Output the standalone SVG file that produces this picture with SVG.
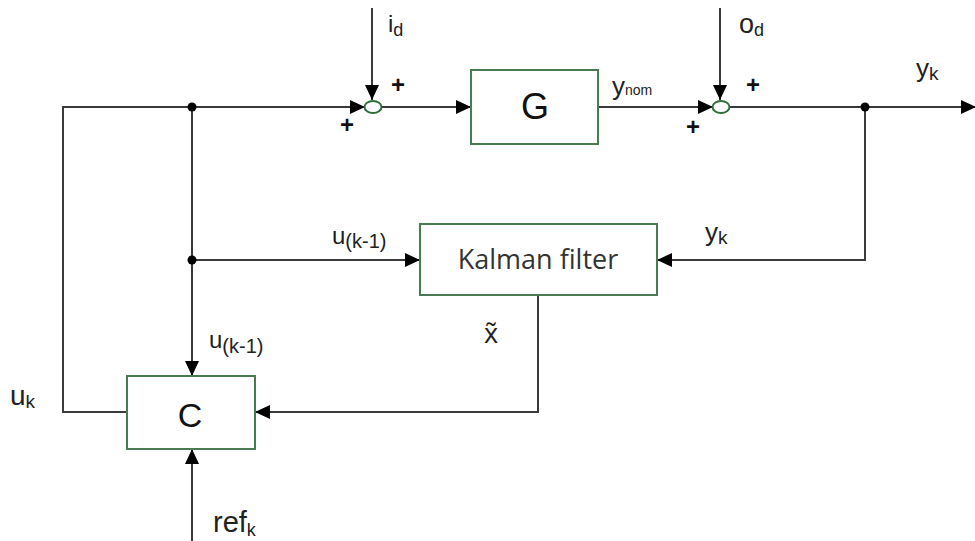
<svg xmlns="http://www.w3.org/2000/svg" width="975" height="541" viewBox="0 0 975 541">
<style>
.ln{fill:none;stroke:#3a3a3a;stroke-width:2}
.box{fill:#fff;stroke:#4a7a52;stroke-width:2}
.sum{fill:#fff;stroke:#2f6e3a;stroke-width:2}
.lb{font-family:"Liberation Sans",Arial,sans-serif;fill:#222}
.pl{font-family:"Liberation Sans",Arial,sans-serif;font-size:24px;font-weight:bold;fill:#111;text-anchor:middle}
.bt{font-family:"Liberation Sans",Arial,sans-serif;fill:#111;text-anchor:middle}
.dot{fill:#000}
</style>
<defs>
<marker id="ah" markerUnits="userSpaceOnUse" markerWidth="16" markerHeight="14" refX="15" refY="7" orient="auto">
<path d="M0,0 L15,7 L0,14 z" fill="#000"/>
</marker>
</defs>
<rect width="975" height="541" fill="#fff"/>
<g id="connectors">
<path class="ln" d="M127,412 H63 V107 H365" marker-end="url(#ah)"/>
<path class="ln" d="M192,107 V376" marker-end="url(#ah)"/>
<path class="ln" d="M192,260 H420" marker-end="url(#ah)"/>
<path class="ln" d="M372,8 V100" marker-end="url(#ah)"/>
<path class="ln" d="M382,107 H471" marker-end="url(#ah)"/>
<path class="ln" d="M598,107 H713" marker-end="url(#ah)"/>
<path class="ln" d="M720,8 V100" marker-end="url(#ah)"/>
<path class="ln" d="M730,107 H976" marker-end="url(#ah)"/>
<path class="ln" d="M865,107 V260 H657" marker-end="url(#ah)"/>
<path class="ln" d="M538,295 V412 H255" marker-end="url(#ah)"/>
<path class="ln" d="M192,541 V449" marker-end="url(#ah)"/>
<circle class="dot" cx="192" cy="107" r="4.5"/>
<circle class="dot" cx="192" cy="260" r="4.5"/>
<circle class="dot" cx="865" cy="107" r="4.5"/>
</g>
<g id="sum1">
<ellipse class="sum" cx="373" cy="107" rx="8.5" ry="6"/>
<text class="pl" x="398" y="93">+</text>
<text class="pl" x="347" y="133">+</text>
</g>
<g id="sum2">
<ellipse class="sum" cx="721" cy="107" rx="8.5" ry="6"/>
<text class="pl" x="753" y="93">+</text>
<text class="pl" x="693" y="135">+</text>
</g>
<g id="G">
<rect class="box" x="471" y="70" width="127" height="74"/>
<text class="bt" x="535" y="119" font-size="36">G</text>
</g>
<g id="Kalman">
<rect class="box" x="420" y="224" width="237" height="71"/>
<text x="538" y="269" font-family="'Open Sans',sans-serif" font-size="27" fill="#333" text-anchor="middle">Kalman filter</text>
</g>
<g id="C">
<rect class="box" x="127" y="376" width="128" height="73"/>
<text class="bt" x="190" y="427" font-size="34">C</text>
</g>
<g id="labels">
<text class="lb" x="388" y="32" font-size="24">i<tspan font-size="18" dy="4">d</tspan></text>
<text class="lb" x="739" y="33" font-size="27">o<tspan font-size="18" dy="3">d</tspan></text>
<text class="lb" x="612" y="95" font-size="26">y<tspan font-size="14" dy="0">nom</tspan></text>
<text class="lb" x="916" y="77" font-size="26">y<tspan font-size="19" dy="3">k</tspan></text>
<text class="lb" x="332" y="244" font-size="24">u<tspan font-size="20" dy="4">(k-1)</tspan></text>
<text class="lb" x="705" y="241" font-size="26">y<tspan font-size="19" dy="3">k</tspan></text>
<text x="484" y="343" font-family="'Open Sans',sans-serif" font-size="27" fill="#222">x̃</text>
<text class="lb" x="209" y="348" font-size="24">u<tspan font-size="20" dy="5">(k-1)</tspan></text>
<text class="lb" x="10" y="405" font-size="28">u<tspan font-size="19" dy="3">k</tspan></text>
<text class="lb" x="213" y="532" font-size="29">ref<tspan font-size="18" dy="4">k</tspan></text>
</g>
</svg>
